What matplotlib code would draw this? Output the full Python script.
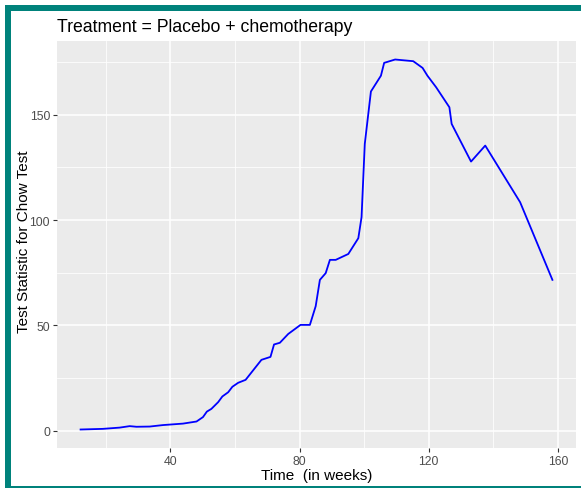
import matplotlib
matplotlib.use("Agg")
import matplotlib.pyplot as plt
from matplotlib.patches import Rectangle
from matplotlib.ticker import MultipleLocator

# data
time_weeks = [12.2, 19.1, 24.3, 27.4, 29.5, 33.6, 37.7, 43.9, 48.1, 50.1, 51.3, 52.7,
              54.8, 56.1, 57.9, 59.2, 61.0, 63.3, 68.2, 71.0, 72.1, 73.9, 76.5, 80.3,
              83.2, 85.0, 86.3, 88.1, 89.4, 91.2, 95.1, 98.2, 99.2, 100.2, 102.1,
              105.2, 106.2, 109.6, 115.2, 118.1, 119.6, 122.3, 126.4, 127.1, 133.1,
              137.5, 148.3, 158.3]
chow_stat = [0.5, 0.8, 1.4, 2.1, 1.8, 1.9, 2.6, 3.3, 4.3, 6.4, 9.0, 10.3,
             13.5, 16.2, 18.2, 20.8, 22.7, 24.1, 33.6, 35.0, 40.9, 41.7, 45.9, 50.2,
             50.2, 59.1, 71.6, 74.8, 81.1, 81.1, 83.9, 91.4, 101.4, 136.2, 161.1,
             168.6, 174.7, 176.3, 175.5, 172.3, 168.6, 163.1, 153.6, 145.7, 127.8,
             135.4, 108.5, 71.6]
x_ticks = [40, 80, 120, 160]
y_ticks = [0, 50, 100, 150]
title = "Treatment = Placebo + chemotherapy"
x_label = "Time  (in weeks)"
y_label = "Test Statistic for Chow Test"

W, H = 581, 489
fig = plt.figure(figsize=(W / 100, H / 100), dpi=100)
fig.patch.set_facecolor("white")
plt.rcParams["font.family"] = ["Liberation Sans", "DejaVu Sans"]

# teal frame
teal = "#00827B"
fig.add_artist(Rectangle((5 / W, 1 - 11.5 / H), 1 - 5 / W, 5.5 / H, transform=fig.transFigure,
                         color=teal, lw=0, zorder=0))
fig.add_artist(Rectangle((5 / W, 0), 6 / W, 1 - 6 / H, transform=fig.transFigure,
                         color=teal, lw=0, zorder=0))
fig.add_artist(Rectangle((5 / W, 0), 1 - 5 / W, 2.5 / H, transform=fig.transFigure,
                         color=teal, lw=0, zorder=0))

L, R, T, B = 57, 576, 42, 449
ax = fig.add_axes([L / W, 1 - B / H, (R - L) / W, (B - T) / H])
ax.set_facecolor("#EBEBEB")
for s in ax.spines.values():
    s.set_visible(False)

ax.plot(time_weeks, chow_stat, color="#0000FF", lw=1.3, zorder=3)

xmin, xmax = min(time_weeks), max(time_weeks)
ymin, ymax = min(chow_stat), max(chow_stat)
ax.set_xlim(xmin - 0.05 * (xmax - xmin), xmax + 0.05 * (xmax - xmin))
ax.set_ylim(ymin - 0.05 * (ymax - ymin), ymax + 0.05 * (ymax - ymin))

ax.set_xticks(x_ticks)
ax.set_yticks(y_ticks)
ax.xaxis.set_minor_locator(MultipleLocator(20))
ax.yaxis.set_minor_locator(MultipleLocator(25))
ax.grid(which="major", color="white", lw=1.1, zorder=1)
ax.grid(which="minor", color="white", lw=0.55, zorder=1)
ax.set_axisbelow(True)
ax.tick_params(which="major", length=3, width=0.8, color="#333333", labelsize=8.8,
               labelcolor="#4D4D4D", pad=2)
ax.tick_params(which="minor", length=0)

ax.set_xlabel(x_label, fontsize=11, color="black", labelpad=1)
ax.set_ylabel(y_label, fontsize=11, color="black")
ax.yaxis.set_label_coords((31 - L) / (R - L), 0.51)
ax.set_title(title, fontsize=12.7, loc="left", color="black", pad=7)

fig.savefig("out.png", dpi=100, facecolor="white")
